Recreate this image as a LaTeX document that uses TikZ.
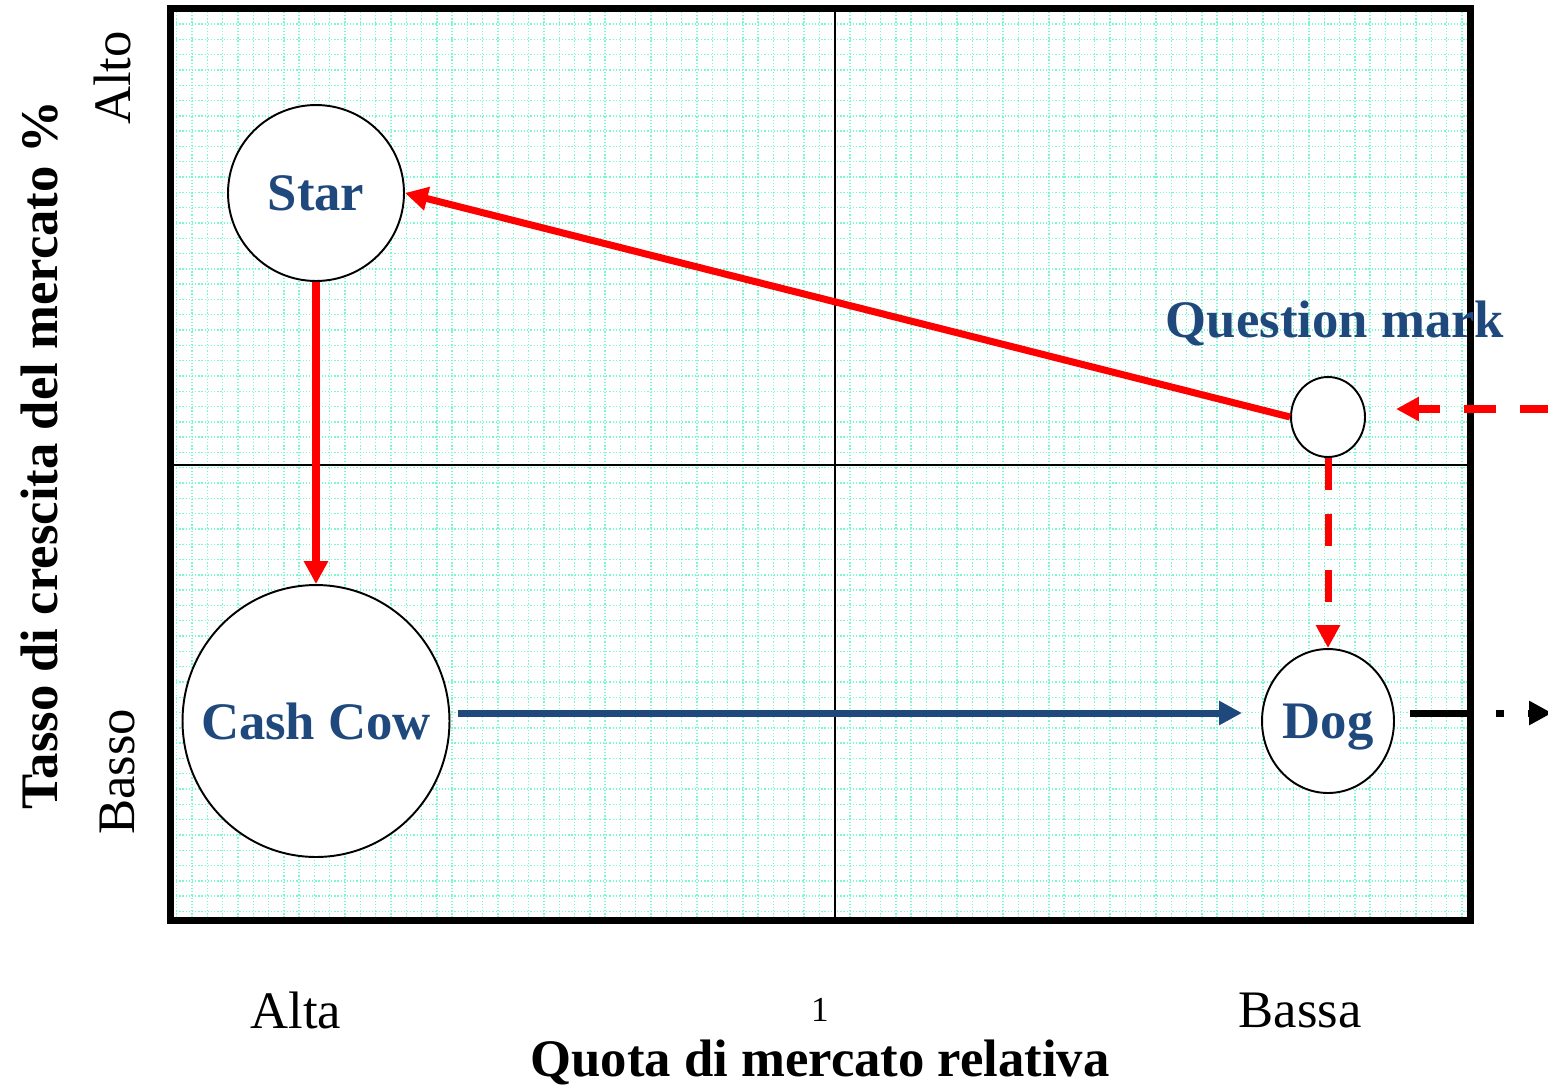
\documentclass[tikz,border=0pt]{standalone}
\usepackage{fontspec}
\setmainfont{Liberation Serif}
\usepackage{xcolor}
\usetikzlibrary{arrows.meta,shapes.geometric}

\definecolor{bcgblue}{RGB}{31,73,125}
\definecolor{gridgreen}{RGB}{120,250,205}

\begin{document}
\begin{tikzpicture}[x=0.02cm, y=-0.02cm, >={Triangle[length=13pt,width=13pt]},
  bubble/.style={ellipse, draw, fill=white, line width=1.1pt, inner sep=0pt},
  tag/.style={font=\fontsize{30}{36}\selectfont\bfseries, text=bcgblue},
  axislbl/.style={font=\fontsize{30}{36}\selectfont},
  gridline/.style={gridgreen, line width=0.8pt, dash pattern=on 0.7pt off 1.1pt},
  move/.style={->, line width=4pt, red},
  movedash/.style={->, line width=4pt, red, dash pattern=on 18pt off 14pt}]
  \useasboundingbox (0,0) rectangle (1548,1086);
  % grid paper
  \foreach \gx in {176.7,192,...,1466} \draw[gridline] (\gx,12) -- (\gx,917);
  \foreach \gy in {24,39.3,...,916} \draw[gridline] (173,\gy) -- (1467,\gy);
  % quadrants
  \draw[line width=1.2pt] (170.5,465) -- (1470,465);
  \draw[line width=1.2pt] (835,8.5) -- (835,920);
  \draw[line width=4pt] (170.5,8.5) rectangle (1470,920);

  \node[bubble, minimum width=3.52cm, minimum height=3.52cm] (star) at (316,193) {};
  \node[bubble, minimum width=5.34cm, minimum height=5.44cm] (cow) at (316,721) {};
  \node[bubble, minimum width=1.48cm, minimum height=1.6cm] (qm) at (1328,417) {};
  \node[bubble, minimum width=2.64cm, minimum height=2.88cm] (dog) at (1328,721) {};

  \node[tag] (startxt) at (316,193) {Star};
  \node[tag] (cowtxt) at (316,721) {Cash Cow};
  \node[tag] (dogtxt) at (1328,727) {Dog};
  \node[tag] (qmtxt) at (1335,323) {Question mark};

  \coordinate (inflow) at (1552,409);
  \coordinate (qmin) at (1396,409);
  \coordinate (cowout) at (458,713);
  \coordinate (dogin) at (1242,713);
  \coordinate (dogout) at (1410,713);
  \coordinate (exitpt) at (1552,713);

  \draw[move] (qm.west) -- (star.east);
  \draw[move] (star.south) -- (cow.north);
  \draw[movedash] (qm.south) -- (dog.north);
  \draw[movedash] (inflow) -- (qmin);
  \draw[->, line width=4pt, bcgblue] (cowout) -- (dogin);
  \draw[->, line width=4pt, dash pattern=on 34pt off 15pt on 4.5pt off 13.6pt] (dogout) -- (exitpt);

  % axes
  \node[axislbl, rotate=90] (alto) at (112,78) {Alto};
  \node[axislbl, rotate=90] (basso) at (117,772) {Basso};
  \node[axislbl, font=\fontsize{30}{36}\selectfont\bfseries, rotate=90] (ytitle) at (40,455) {Tasso di crescita del mercato \%};
  \node[axislbl] (alta) at (296,1010) {Alta};
  \node[axislbl] (bassa) at (1300,1010) {Bassa};
  \node[font=\fontsize{20}{24}\selectfont, inner sep=0pt] (one) at (820,1010) {1};
  \node[axislbl, font=\fontsize{30}{36}\selectfont\bfseries, inner sep=0pt] (xtitle) at (820,1062) {Quota di mercato relativa};
\end{tikzpicture}
\end{document}
